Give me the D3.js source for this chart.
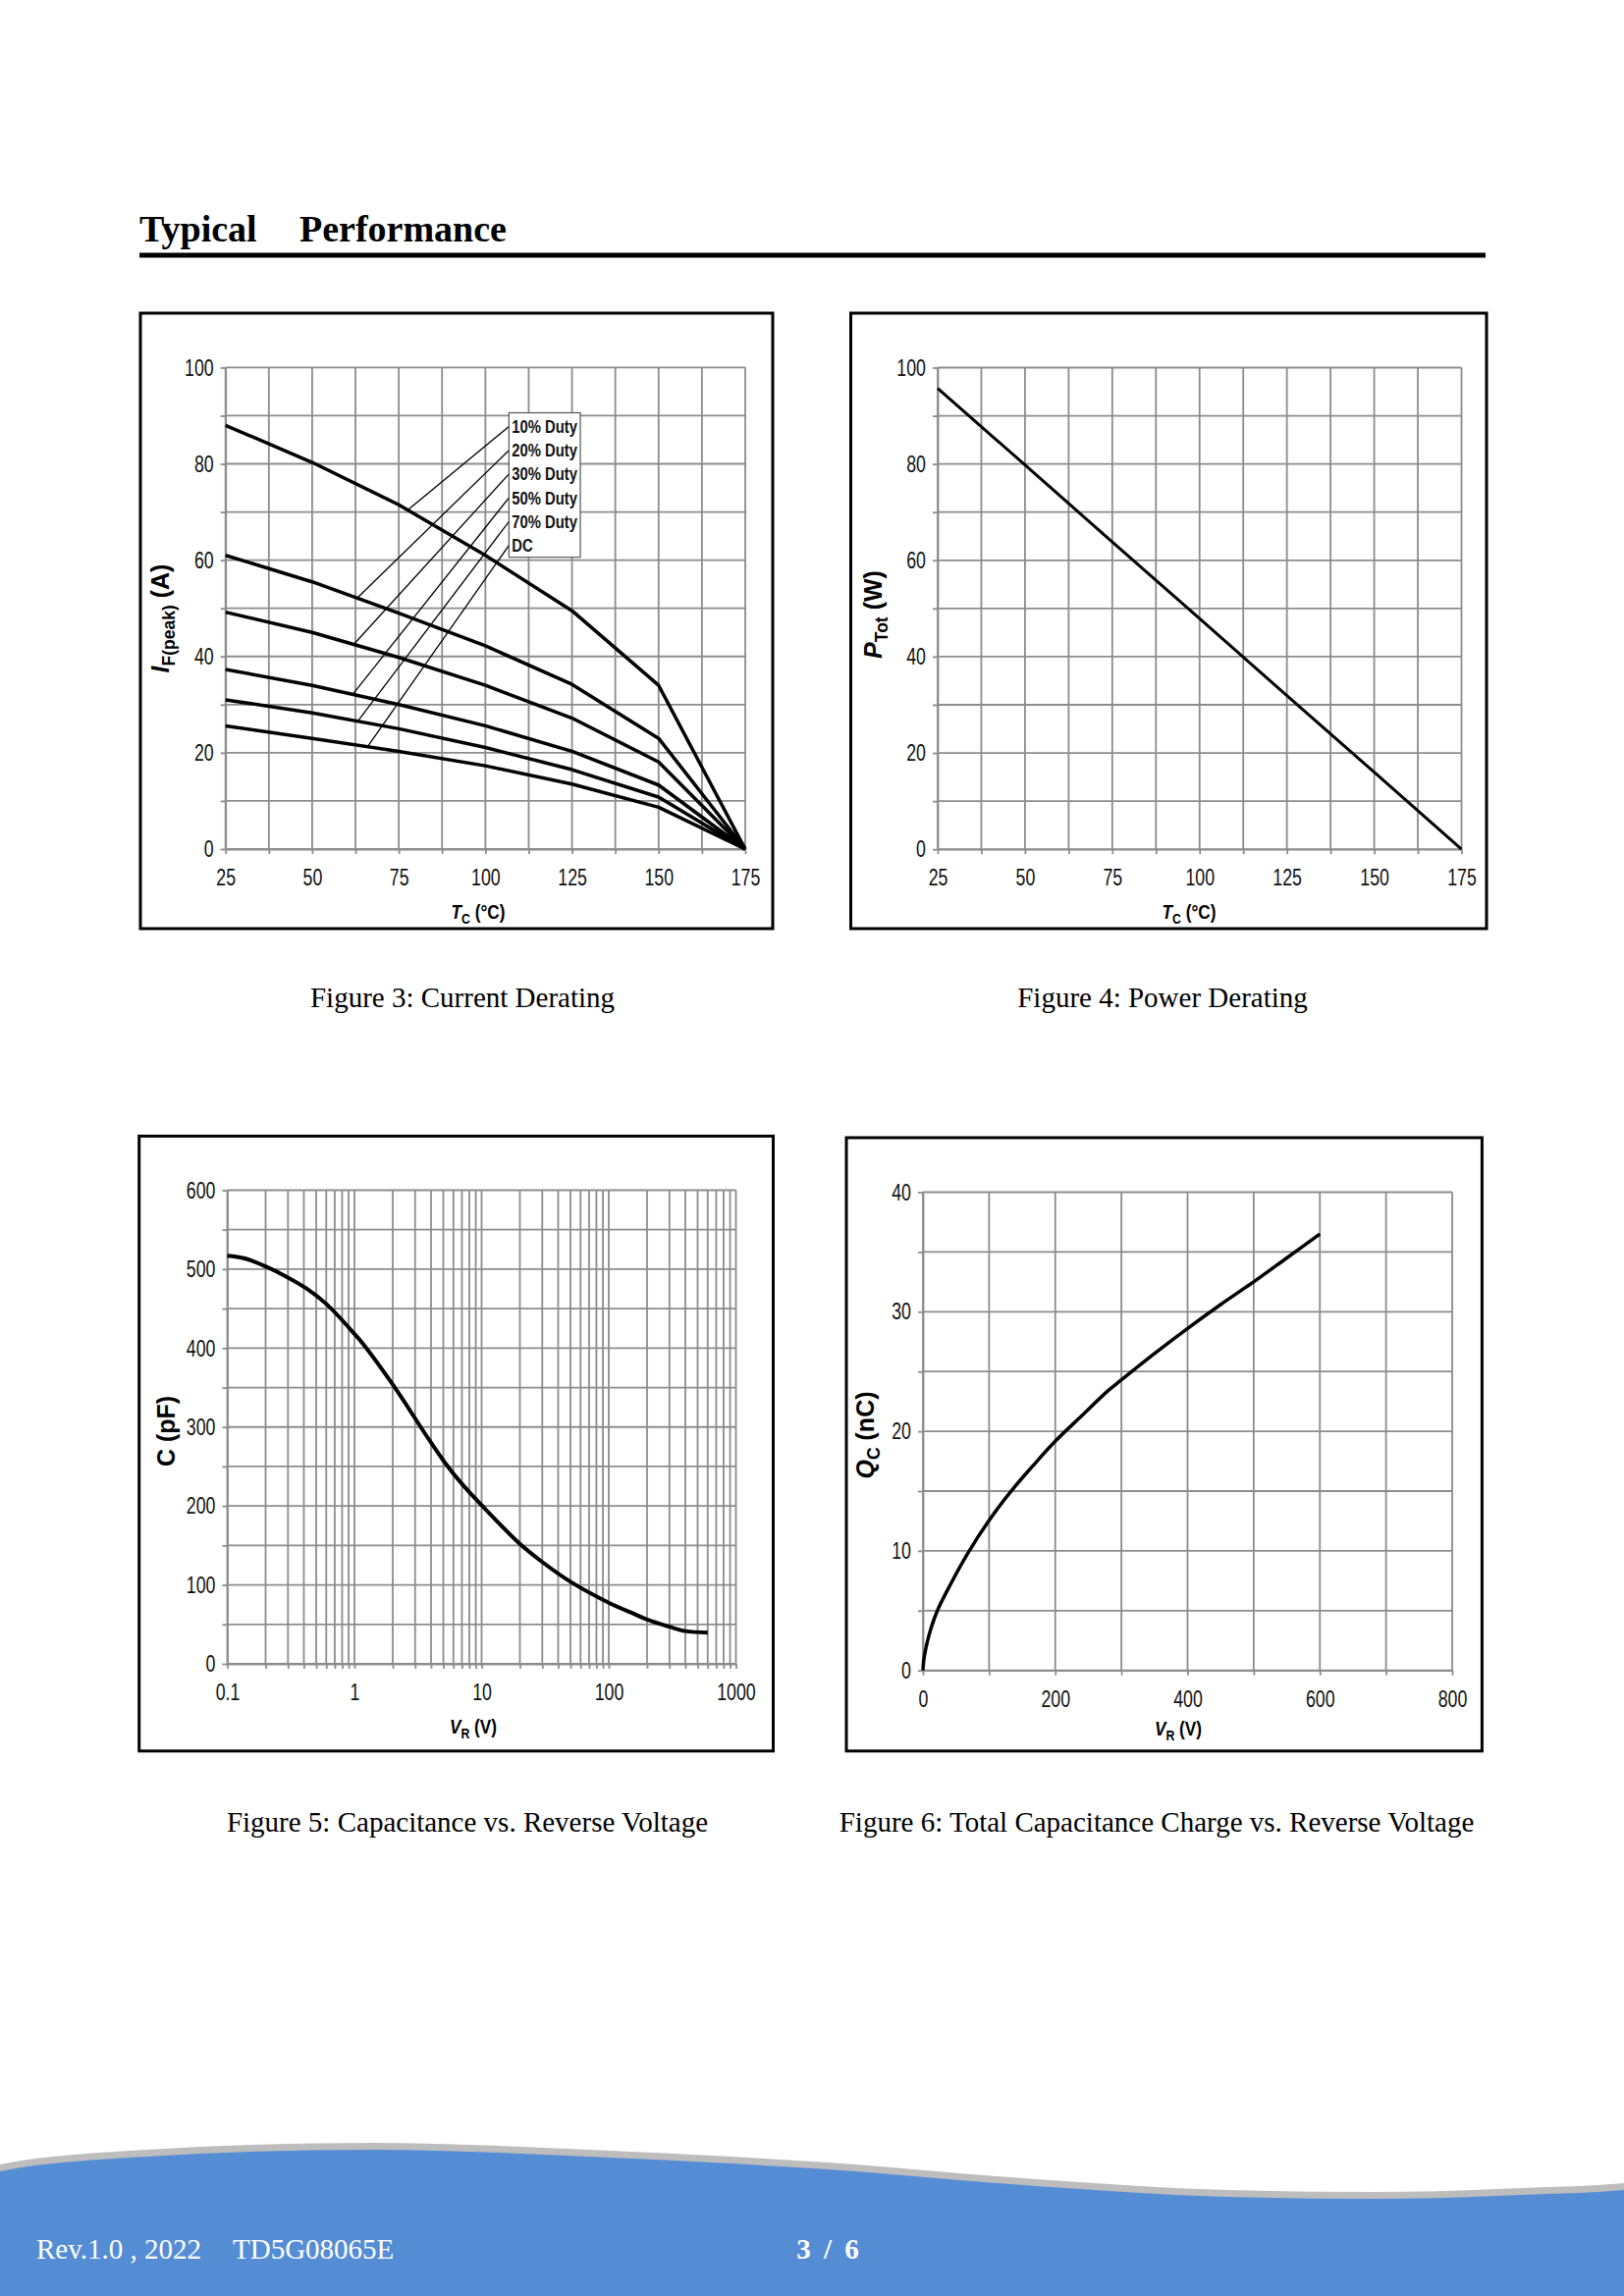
<!DOCTYPE html>
<html><head><meta charset="utf-8">
<script src="https://cdn.jsdelivr.net/npm/d3@7"></script>
<style>body{margin:0;background:#fff} svg{display:block}</style>
</head><body>
<svg id="page" width="1654" height="2339"></svg>
<script>
// ---------------- DATA ----------------
// Figure 3: Current derating
const fig3Temp = [25, 50, 75, 100, 125, 150, 175];
const fig3Labels = ["10% Duty", "20% Duty", "30% Duty", "50% Duty", "70% Duty", "DC"];
const fig3Duty10 = [88, 80.3, 71.5, 61, 49.5, 34, 0];
const fig3Duty20 = [61, 55.5, 49, 42.2, 34.2, 23, 0];
const fig3Duty30 = [49.2, 45, 39.8, 34, 27.2, 18.1, 0];
const fig3Duty50 = [37.3, 34, 30, 25.6, 20.3, 13.3, 0];
const fig3Duty70 = [31, 28.3, 25, 21.1, 16.5, 10.8, 0];
const fig3DC = [25.6, 23, 20.3, 17.3, 13.5, 8.7, 0];
const fig3LeaderTemp = [77.6, 63, 62, 61.7, 63.2, 66];
const fig3XTicks = [25, 50, 75, 100, 125, 150, 175];
const fig3YTicks = [0, 20, 40, 60, 80, 100];

// Figure 4: Power derating
const fig4Temp = [25, 50, 75, 100, 125, 150, 175];
const fig4Power = [95.7, 79.8, 63.8, 47.9, 31.9, 16, 0];
const fig4XTicks = [25, 50, 75, 100, 125, 150, 175];
const fig4YTicks = [0, 20, 40, 60, 80, 100];

// Figure 5: Capacitance vs reverse voltage
const fig5Voltage = [0.1, 0.137, 0.2, 0.29, 0.42, 0.61, 1.0, 1.167, 2.05, 3.6, 5.14, 7.0, 10, 20, 30, 50, 100, 157, 200, 300, 400, 600];
const fig5Cap =     [517, 513.6, 503.4, 490.7, 475.4, 455, 418, 405.4, 351.4, 291.3, 255, 228, 201, 152, 129, 104, 77.5, 63.5, 56, 47, 41.5, 39.5];
const fig5XTicks = [0.1, 1, 10, 100, 1000];
const fig5YTicks = [0, 100, 200, 300, 400, 500, 600];

// Figure 6: Total capacitance charge vs reverse voltage
const fig6Voltage = [0, 1, 4.95, 12.3, 22.3, 39.7, 66.9, 100.6, 136.3, 166, 200.6, 240, 280, 300, 350, 400, 450, 500, 550, 600];
const fig6Charge =  [0, 0.75, 2.0, 3.55, 5.07, 7.0, 9.72, 12.6, 15.2, 17.1, 19.2, 21.3, 23.4, 24.3, 26.5, 28.6, 30.6, 32.5, 34.5, 36.5];
const fig6XTicks = [0, 200, 400, 600, 800];
const fig6YTicks = [0, 10, 20, 30, 40];

// ---------------- DRAW ----------------
const svg = d3.select("#page");
const SANS = "'Liberation Sans', Arial, sans-serif";
const SERIF = "'Liberation Serif', 'Times New Roman', serif";
const NARROW = 0.82;
const TICKNARROW = 0.74;
const GRID = "#8c8c8c";

// Header
svg.append("text").attr("x", 142).attr("y", 246).attr("font-family", SERIF)
  .attr("font-weight", "bold").attr("font-size", 38).text("Typical");
svg.append("text").attr("x", 305).attr("y", 246).attr("font-family", SERIF)
  .attr("font-weight", "bold").attr("font-size", 38).text("Performance");
svg.append("rect").attr("x", 142).attr("y", 257.5).attr("width", 1371).attr("height", 5).attr("fill", "#000");

function panel(o) {
  const g = svg.append("g");
  const x = o.x, y = o.y;
  const [x0, x1] = x.range();
  const [y0, y1] = y.range();
  // grid
  g.append("g").selectAll("line").data(o.xGrid).join("line")
    .attr("x1", d => x(d)).attr("x2", d => x(d)).attr("y1", y0).attr("y2", y1)
    .attr("stroke", GRID).attr("stroke-width", 1.8);
  g.append("g").selectAll("line").data(o.yGrid).join("line")
    .attr("y1", d => y(d)).attr("y2", d => y(d)).attr("x1", x0).attr("x2", x1)
    .attr("stroke", GRID).attr("stroke-width", 1.8);
  // axes
  const xa = g.append("g").attr("transform", `translate(0,${y0})`)
    .call(d3.axisBottom(x).tickValues(o.xGrid).tickSizeInner(5).tickSizeOuter(0).tickPadding(15)
      .tickFormat(d => o.xTicks.includes(d) ? o.xFmt(d) : ""));
  const ya = g.append("g").attr("transform", `translate(${x0},0)`)
    .call(d3.axisLeft(y).tickValues(o.yGrid).tickSizeInner(5).tickSizeOuter(0).tickPadding(7)
      .tickFormat(d => o.yTicks.includes(d) ? String(d) : ""));
  [xa, ya].forEach(a => {
    a.select(".domain").attr("stroke", GRID).attr("stroke-width", 1.8);
    a.selectAll(".tick line").attr("stroke", GRID).attr("stroke-width", 1.8);
    a.selectAll(".tick text").attr("font-family", SANS).attr("font-size", 24).attr("fill", "#111")
      .each(function () {
        const t = d3.select(this);
        const tx = +t.attr("x") || 0;
        t.attr("x", 0).attr("transform", `translate(${tx},0) scale(${TICKNARROW},1)`);
      });
  });
  // frame
  g.append("rect").attr("x", o.frame[0]).attr("y", o.frame[1])
    .attr("width", o.frame[2] - o.frame[0]).attr("height", o.frame[3] - o.frame[1])
    .attr("fill", "none").attr("stroke", "#000").attr("stroke-width", 3);
  // y label
  const yl = g.append("text").attr("font-family", SANS).attr("font-weight", "bold").attr("font-size", 25)
    .attr("text-anchor", "middle").attr("transform", `translate(${o.yLabelPos[0]},${o.yLabelPos[1]}) rotate(-90)`);
  yl.append("tspan").attr("font-style", o.yLabel[3] ? "italic" : "normal").text(o.yLabel[0]);
  if (o.yLabel[1]) yl.append("tspan").attr("font-size", 17.5).attr("dy", 6).text(o.yLabel[1]);
  yl.append("tspan").attr("dy", o.yLabel[1] ? -6 : 0).text(o.yLabel[2]);
  // x label
  const xl = g.append("text").attr("font-family", SANS).attr("font-weight", "bold").attr("font-size", 21)
    .attr("text-anchor", "middle").attr("transform", `translate(${o.xLabelPos[0]},${o.xLabelPos[1]}) scale(${NARROW},1)`);
  xl.append("tspan").attr("font-style", "italic").text(o.xLabel[0]);
  xl.append("tspan").attr("font-size", 15).attr("dy", 5).text(o.xLabel[1]);
  xl.append("tspan").attr("dy", -5).text(o.xLabel[2]);
  // caption
  svg.append("text").attr("x", o.caption[1]).attr("y", o.caption[2]).attr("text-anchor", "middle")
    .attr("font-family", SERIF).attr("font-size", 29).text(o.caption[0]);
  return g;
}

const intFmt = d => String(d);

// ----- Figure 3 -----
const x3 = d3.scaleLinear().domain([25, 175]).range([229.7, 759]);
const y3 = d3.scaleLinear().domain([0, 100]).range([865, 374.4]);
const g3 = panel({
  x: x3, y: y3, xGrid: d3.range(25, 175.1, 12.5), yGrid: d3.range(0, 100.1, 10),
  xTicks: fig3XTicks, yTicks: fig3YTicks, xFmt: intFmt,
  frame: [143, 319, 787, 946],
  yLabel: ["I", "F(peak)", " (A)", true], yLabelPos: [172, 630],
  xLabel: ["T", "C", " (°C)"], xLabelPos: [487, 936],
  caption: ["Figure 3: Current Derating", 471, 1026]
});
const fig3Series = [fig3Duty10, fig3Duty20, fig3Duty30, fig3Duty50, fig3Duty70, fig3DC];
const line3 = d3.line().x((d, i) => x3(fig3Temp[i])).y(d => y3(d));
g3.append("g").selectAll("path").data(fig3Series).join("path")
  .attr("d", line3).attr("fill", "none").attr("stroke", "#000").attr("stroke-width", 3.5)
  .attr("stroke-linejoin", "round");
// legend box
const legX = 106.8, legTop = 90.6, legBottom = 60.6, legRight = 127.4;
const legRowY = i => y3(legTop) + 14 + i * 24.2;
const interp = (series, t) => {
  const i = d3.bisectRight(fig3Temp, t) - 1;
  const f = (t - fig3Temp[i]) / (fig3Temp[i + 1] - fig3Temp[i]);
  return series[i] + f * (series[i + 1] - series[i]);
};
g3.append("g").selectAll("line").data(fig3Labels).join("line")
  .attr("x1", x3(legX)).attr("y1", (d, i) => legRowY(i))
  .attr("x2", (d, i) => x3(fig3LeaderTemp[i]))
  .attr("y2", (d, i) => y3(interp(fig3Series[i], fig3LeaderTemp[i])))
  .attr("stroke", "#000").attr("stroke-width", 1.3);
g3.append("rect").attr("x", x3(legX)).attr("y", y3(legTop))
  .attr("width", x3(legRight) - x3(legX)).attr("height", y3(legBottom) - y3(legTop))
  .attr("fill", "#fff").attr("stroke", "#555").attr("stroke-width", 1.2);
g3.append("g").selectAll("text").data(fig3Labels).join("text")
  .attr("transform", (d, i) => `translate(${x3(legX) + 3},${legRowY(i) + 6.5}) scale(${TICKNARROW + 0.04},1)`)
  .attr("font-family", SANS).attr("font-weight", "bold").attr("font-size", 19).attr("fill", "#111")
  .text(d => d);

// ----- Figure 4 -----
const x4 = d3.scaleLinear().domain([25, 175]).range([955, 1488.5]);
const y4 = d3.scaleLinear().domain([0, 100]).range([865.2, 374.5]);
const g4 = panel({
  x: x4, y: y4, xGrid: d3.range(25, 175.1, 12.5), yGrid: d3.range(0, 100.1, 10),
  xTicks: fig4XTicks, yTicks: fig4YTicks, xFmt: intFmt,
  frame: [866.5, 319, 1514, 946],
  yLabel: ["P", "Tot", " (W)", true], yLabelPos: [898, 626],
  xLabel: ["T", "C", " (°C)"], xLabelPos: [1211, 936],
  caption: ["Figure 4: Power Derating", 1184, 1026]
});
g4.append("path").datum(fig4Power)
  .attr("d", d3.line().x((d, i) => x4(fig4Temp[i])).y(d => y4(d)))
  .attr("fill", "none").attr("stroke", "#000").attr("stroke-width", 3);

// ----- Figure 5 -----
const x5 = d3.scaleLog().domain([0.1, 1000]).range([231.5, 749.5]);
const y5 = d3.scaleLinear().domain([0, 600]).range([1695, 1212.5]);
const logGrid = [];
[0.1, 1, 10, 100].forEach(dec => { for (let k = 1; k <= 9; k++) logGrid.push(+(dec * k).toPrecision(3)); });
logGrid.push(1000);
const g5 = panel({
  x: x5, y: y5, xGrid: logGrid, yGrid: d3.range(0, 600.1, 50),
  xTicks: fig5XTicks, yTicks: fig5YTicks, xFmt: d => String(d),
  frame: [141.7, 1157.4, 787.5, 1783.8],
  yLabel: ["C", "", " (pF)", false], yLabelPos: [178, 1458],
  xLabel: ["V", "R", " (V)"], xLabelPos: [482, 1766],
  caption: ["Figure 5: Capacitance vs. Reverse Voltage", 476, 1866]
});
g5.append("path").datum(fig5Cap)
  .attr("d", d3.line().x((d, i) => x5(fig5Voltage[i])).y(d => y5(d)).curve(d3.curveCatmullRom.alpha(0.5)))
  .attr("fill", "none").attr("stroke", "#000").attr("stroke-width", 4);

// ----- Figure 6 -----
const x6 = d3.scaleLinear().domain([0, 800]).range([940, 1479]);
const y6 = d3.scaleLinear().domain([0, 40]).range([1701.7, 1214.5]);
const g6 = panel({
  x: x6, y: y6, xGrid: d3.range(0, 800.1, 100), yGrid: d3.range(0, 40.1, 5),
  xTicks: fig6XTicks, yTicks: fig6YTicks, xFmt: intFmt,
  frame: [862, 1159, 1509.4, 1783.8],
  yLabel: ["Q", "C", " (nC)", true], yLabelPos: [890, 1462],
  xLabel: ["V", "R", " (V)"], xLabelPos: [1200, 1768],
  caption: ["Figure 6: Total Capacitance Charge vs. Reverse Voltage", 1178, 1866]
});
g6.append("path").datum(fig6Charge)
  .attr("d", d3.line().x((d, i) => x6(fig6Voltage[i])).y(d => y6(d)).curve(d3.curveCatmullRom.alpha(0.5)))
  .attr("fill", "none").attr("stroke", "#000").attr("stroke-width", 3.5);

// ----- Footer -----
const waveTop = [[-10, 2208], [0, 2205], [150, 2190], [380, 2183], [600, 2190], [844, 2203], [1055, 2220], [1250, 2231], [1400, 2233], [1550, 2229], [1654, 2224], [1664, 2223]];
const wave = d3.line().curve(d3.curveMonotoneX);
svg.append("path").attr("d", wave(waveTop) + "L1664,2339L-10,2339Z").attr("fill", "#bdbdbd");
svg.append("path").attr("d", wave(waveTop.map(p => [p[0], p[1] + 7])) + "L1664,2339L-10,2339Z").attr("fill", "#558dd5");
svg.append("text").attr("x", 37).attr("y", 2301).attr("font-family", SERIF).attr("font-size", 29)
  .attr("fill", "#fff").text("Rev.1.0 , 2022");
svg.append("text").attr("x", 237).attr("y", 2301).attr("font-family", SERIF).attr("font-size", 29)
  .attr("fill", "#fff").text("TD5G08065E");
svg.append("text").attr("x", 843).attr("y", 2301).attr("text-anchor", "middle").attr("font-family", SERIF)
  .attr("font-size", 29).attr("font-weight", "bold").attr("word-spacing", 6).attr("fill", "#fff").text("3 / 6");
</script>
</body></html>
